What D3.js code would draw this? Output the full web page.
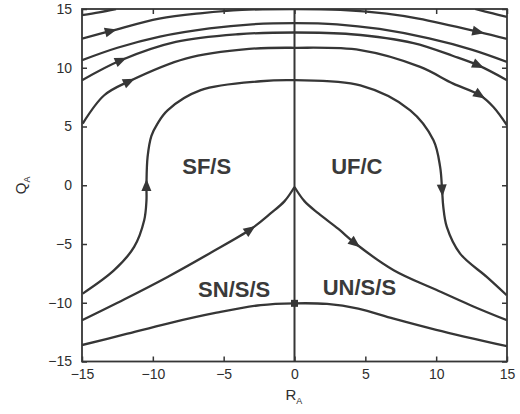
<!DOCTYPE html>
<html>
<head>
<meta charset="utf-8">
<script src="https://cdn.jsdelivr.net/npm/d3@7"></script>
<style>
  html, body { margin: 0; padding: 0; background: #fff; }
  svg { display: block; font-family: "Liberation Sans", Arial, Helvetica, sans-serif; }
</style>
</head>
<body>
<svg id="chart" width="520" height="414"></svg>
<script>
// ---- data (phase-plane trajectories, R_A vs Q_A) ----
const xTicks = [-15, -10, -5, 0, 5, 10, 15];
const yTicks = [-15, -10, -5, 0, 5, 10, 15];

const curveA_left  = [[-15, 14.47], [-13.8, 14.72], [-12.6, 15.0]];
const curveA_right = [[12.75, 15.0], [14.0, 14.62], [15, 14.32]];
const curveB = [[-15, 12.48], [-12.96, 13.13], [-9.55, 14.18], [-6.5, 14.65], [-3.7, 14.92], [0, 15.0],
                [3.24, 14.93], [6.5, 14.6], [8.75, 14.18], [12.98, 13.05], [15, 12.45]];
const curveC = [[-15, 10.64], [-12.5, 11.7], [-9.5, 12.65], [-6, 13.35], [-3, 13.7], [0, 13.8],
                [3, 13.7], [6, 13.3], [9.5, 12.5], [12.5, 11.55], [15, 10.5]];
const curveD = [[-15, 8.94], [-12.25, 10.64], [-8.38, 12.2], [-4, 12.85], [0, 13.0],
                [4, 12.85], [8.4, 12.1], [11.2, 11.0], [12.98, 10.2], [15, 8.94]];
const curveE = [[-14.95, 5.25], [-13.43, 7.66], [-11.67, 8.85], [-7.68, 10.78], [-3.2, 11.6], [0, 11.7],
                [4.65, 11.5], [8.87, 10.07], [11.2, 8.65], [13.1, 7.66], [14.04, 6.66], [15, 5.1]];
const curveF = [[-14.95, -9.22], [-12.73, -7.23], [-11.32, -5.25], [-10.61, -2.98], [-10.45, -1.3],
                [-10.45, 0], [-10.37, 2.41], [-10.1, 4.2], [-9.67, 5.25], [-8.96, 6.38], [-6.62, 8.09],
                [-2.39, 8.85], [0, 8.94], [4.65, 8.5], [8.17, 6.38], [9.81, 3.83], [10.28, 1.56],
                [10.42, -0.43], [10.5, -1.8], [10.75, -3.55], [11.69, -5.82], [13.57, -7.8], [14.98, -9.36]];
const curveG = [[-15, -11.49], [-12, -9.7], [-8.96, -7.8], [-6, -5.8], [-3.1, -3.75], [-1.69, -2.4],
                [-0.7, -1.35], [0, -0.15]];
const curveH = [[0, -0.15], [0.7, -1.35], [1.69, -2.4], [3.1, -3.72], [4.3, -4.96], [7, -7.23],
                [10, -8.9], [12.5, -10.25], [15, -11.49]];
const curveI = [[-15, -13.6], [-12, -12.7], [-8.96, -11.77], [-5.5, -10.85], [-2.39, -10.2], [0, -10.05],
                [2.3, -10.1], [4.5, -10.5], [7, -11.35], [10, -12.3], [15, -13.7]];
const axisLine = [[0, -15], [0, 15]];

// arrowheads: [curve name, x, y] (flow follows the point order)
const arrowMarks = [["B", -12.96, 13.13], ["B", 12.98, 13.05], ["D", -12.25, 10.64], ["D", 12.98, 10.2],
                    ["E", -11.67, 8.85], ["E", 13.1, 7.66], ["F", -10.45, 0], ["F", 10.42, -0.43],
                    ["G", -3.1, -3.75], ["H", 4.3, -4.96]];
const squareMarks = [[0, -10.05]];

const regionLabels = ["SF/S", "UF/C", "SN/S/S", "UN/S/S"];
const regionLabelX = [-6.2, 4.4, -4.26, 4.58];
const regionLabelY = [1.0, 1.0, -9.5, -9.36];

// ---- drawing ----
const svg = d3.select("#chart");
const x = d3.scaleLinear().domain([-15, 15]).range([82, 507]);
const y = d3.scaleLinear().domain([-15, 15]).range([361.5, 9]);
const ink = "#363636";

svg.append("clipPath").attr("id", "plotclip")
  .append("rect").attr("x", x(-15)).attr("y", y(15))
  .attr("width", x(15) - x(-15)).attr("height", y(-15) - y(15));

const line = d3.line().x(d => x(d[0])).y(d => y(d[1])).curve(d3.curveCatmullRom.alpha(0.5));

const curves = { A1: curveA_left, A2: curveA_right, B: curveB, C: curveC, D: curveD, E: curveE,
                 F: curveF, G: curveG, H: curveH, I: curveI };
const g = svg.append("g").attr("clip-path", "url(#plotclip)");
const paths = {};
Object.entries(curves).forEach(([k, pts]) => {
  paths[k] = g.append("path").attr("d", line(pts)).attr("fill", "none")
    .attr("stroke", ink).attr("stroke-width", 2.3).attr("stroke-linejoin", "round");
});
g.append("path").attr("d", d3.line().x(d => x(d[0])).y(d => y(d[1]))(axisLine))
  .attr("stroke", ink).attr("stroke-width", 2).attr("fill", "none");

// arrowheads along path tangents
arrowMarks.forEach(([k, ax, ay]) => {
  const node = paths[k].node();
  const L = node.getTotalLength();
  const px = x(ax), py = y(ay);
  let best = 0, bd = Infinity;
  for (let s = 0; s <= L; s += 0.5) {
    const p = node.getPointAtLength(s);
    const d = (p.x - px) ** 2 + (p.y - py) ** 2;
    if (d < bd) { bd = d; best = s; }
  }
  const p0 = node.getPointAtLength(Math.max(0, best - 3));
  const p1 = node.getPointAtLength(Math.min(L, best + 3));
  const ang = Math.atan2(p1.y - p0.y, p1.x - p0.x) * 180 / Math.PI;
  const c = node.getPointAtLength(best);
  svg.append("path").attr("d", "M6,0 L-6,-5 L-6,5 Z")
    .attr("transform", `translate(${c.x},${c.y}) rotate(${ang})`)
    .attr("fill", ink);
});
squareMarks.forEach(([sx, sy]) => {
  svg.append("rect").attr("x", x(sx) - 3.5).attr("y", y(sy) - 3.5).attr("width", 7).attr("height", 7).attr("fill", ink);
});

// frame
svg.append("rect").attr("x", x(-15)).attr("y", y(15)).attr("width", x(15) - x(-15))
  .attr("height", y(-15) - y(15)).attr("fill", "none").attr("stroke", ink).attr("stroke-width", 1.8);

// axes with inward ticks
const fmt = d3.format("d");
const styleAxis = sel => {
  sel.select(".domain").remove();
  sel.selectAll(".tick line").attr("stroke", ink).attr("stroke-width", 1.5);
  sel.selectAll(".tick text").attr("fill", "#2e2e2e").style("font-size", "14px").style("font-family", "'Liberation Sans', Arial, sans-serif");
};
svg.append("g").attr("transform", `translate(0,${y(-15)})`)
  .call(d3.axisBottom(x).tickValues(xTicks).tickFormat(fmt).tickSizeInner(-5).tickSizeOuter(0).tickPadding(8))
  .call(styleAxis);
svg.append("g").attr("transform", `translate(0,${y(15)})`)
  .call(d3.axisTop(x).tickValues(xTicks).tickFormat("").tickSizeInner(-5).tickSizeOuter(0))
  .call(styleAxis);
svg.append("g").attr("transform", `translate(${x(-15)},0)`)
  .call(d3.axisLeft(y).tickValues(yTicks).tickFormat(fmt).tickSizeInner(-5).tickSizeOuter(0).tickPadding(10))
  .call(styleAxis);
svg.append("g").attr("transform", `translate(${x(15)},0)`)
  .call(d3.axisRight(y).tickValues(yTicks).tickFormat("").tickSizeInner(-5).tickSizeOuter(0))
  .call(styleAxis);

// axis titles
const xt = svg.append("text").attr("x", x(0) - 9).attr("y", 400).attr("fill", "#2e2e2e")
  .style("font-size", "15px");
xt.append("tspan").text("R");
xt.append("tspan").attr("dy", 4).style("font-size", "9px").text("A");
const yt = svg.append("text").attr("transform", `translate(26,${y(0) + 9}) rotate(-90)`).attr("fill", "#2e2e2e")
  .style("font-size", "15px");
yt.append("tspan").text("Q");
yt.append("tspan").attr("dy", 4).style("font-size", "9px").text("A");

// region labels
svg.selectAll("text.region").data(regionLabels).enter().append("text")
  .attr("class", "region")
  .attr("x", (d, i) => x(regionLabelX[i])).attr("y", (d, i) => y(regionLabelY[i]))
  .attr("text-anchor", "middle").attr("fill", "#3a3a3a")
  .style("font-size", "22px").style("font-weight", "bold")
  .text(d => d);
</script>
</body>
</html>
